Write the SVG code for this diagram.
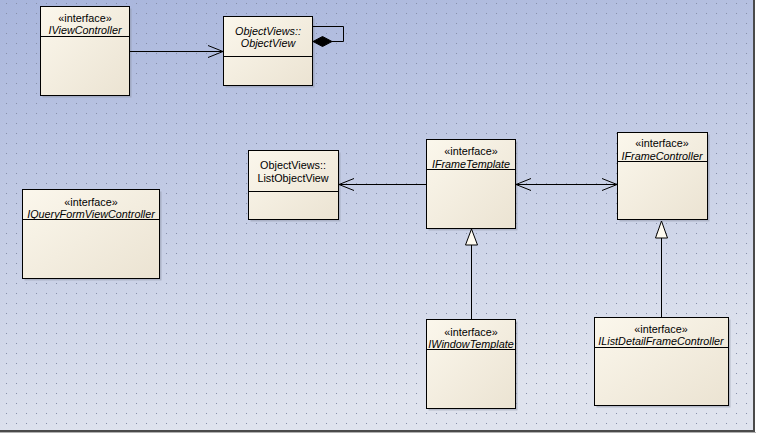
<svg xmlns="http://www.w3.org/2000/svg" width="758" height="435" viewBox="0 0 758 435">
<defs>
<linearGradient id="bg" x1="0" y1="0" x2="0.25" y2="1">
<stop offset="0" stop-color="#a8b5dc"/>
<stop offset="1" stop-color="#dfe3ee"/>
</linearGradient>
<linearGradient id="box" x1="0" y1="0" x2="1" y2="1">
<stop offset="0" stop-color="#fbf7ec"/>
<stop offset="1" stop-color="#ebe3d2"/>
</linearGradient>
<pattern id="dots" x="6" y="3" width="10" height="10" patternUnits="userSpaceOnUse">
<rect x="0" y="0" width="1" height="1" fill="#8890aa"/>
</pattern>
<marker id="open" markerWidth="16" markerHeight="14" refX="15" refY="7" orient="auto" markerUnits="userSpaceOnUse">
<path d="M0,1 L15,7 L0,13" fill="none" stroke="#000" stroke-width="1"/>
</marker>
<marker id="openStart" markerWidth="16" markerHeight="14" refX="1" refY="7" orient="auto" markerUnits="userSpaceOnUse">
<path d="M16,1 L1,7 L16,13" fill="none" stroke="#000" stroke-width="1"/>
</marker>
</defs>
<style>
.b{fill:url(#box);stroke:#000;stroke-width:1}
.sh{fill:#8d93a6;opacity:0.5}
.d{stroke:#000;stroke-width:1}
.t{font-family:"Liberation Sans",Arial,sans-serif;font-size:10.8px;fill:#000;text-anchor:middle}
.i{font-style:italic}
.c{fill:none;stroke:#000;stroke-width:1}
</style>
<rect x="0" y="0" width="758" height="435" fill="#ffffff"/>
<rect x="0" y="0" width="753" height="430" fill="url(#bg)"/>
<rect x="0" y="0" width="753" height="430" fill="url(#dots)"/>
<rect x="753" y="0" width="2" height="433" fill="#4a4a4a"/>
<rect x="0" y="430" width="755" height="2" fill="#4a4a4a"/>
<rect x="0" y="432" width="756" height="1" fill="#b0b0b0"/>

<g id="IViewController">
<rect class="sh" x="42.5" y="8.5" width="89" height="89"/>
<rect class="b" x="40.5" y="6.5" width="89" height="89"/>
<line class="d" x1="40.5" y1="36.5" x2="129.5" y2="36.5"/>
<text class="t" x="85" y="22">«interface»</text>
<text class="t i" x="85" y="34">IViewController</text>
</g>

<g id="ObjectView">
<rect class="sh" x="225.5" y="18.5" width="89" height="69"/>
<rect class="b" x="223.5" y="16.5" width="89" height="69"/>
<line class="d" x1="223.5" y1="56.5" x2="312.5" y2="56.5"/>
<text class="t i" x="268" y="35">ObjectViews::</text>
<text class="t i" x="268" y="47">ObjectView</text>
</g>

<g id="ListObjectView">
<rect class="sh" x="250.5" y="152.5" width="90" height="69"/>
<rect class="b" x="248.5" y="150.5" width="90" height="69"/>
<line class="d" x1="248.5" y1="191.5" x2="338.5" y2="191.5"/>
<text class="t" x="293" y="169">ObjectViews::</text>
<text class="t" x="293" y="182">ListObjectView</text>
</g>

<g id="IFrameTemplate">
<rect class="sh" x="428.5" y="141.5" width="89" height="89"/>
<rect class="b" x="426.5" y="139.5" width="89" height="89"/>
<line class="d" x1="426.5" y1="169.5" x2="515.5" y2="169.5"/>
<text class="t" x="471" y="155">«interface»</text>
<text class="t i" x="471" y="168">IFrameTemplate</text>
</g>

<g id="IFrameController">
<rect class="sh" x="619.5" y="134.5" width="90" height="87"/>
<rect class="b" x="617.5" y="132.5" width="90" height="87"/>
<line class="d" x1="617.5" y1="161.5" x2="707.5" y2="161.5"/>
<text class="t" x="662" y="147">«interface»</text>
<text class="t i" x="662" y="160">IFrameController</text>
</g>

<g id="IQueryFormViewController">
<rect class="sh" x="24.5" y="191.5" width="137" height="89"/>
<rect class="b" x="22.5" y="189.5" width="137" height="89"/>
<line class="d" x1="22.5" y1="219.5" x2="159.5" y2="219.5"/>
<text class="t" x="91" y="206">«interface»</text>
<text class="t i" x="91" y="218">IQueryFormViewController</text>
</g>

<g id="IWindowTemplate">
<rect class="sh" x="428.5" y="321.5" width="89" height="89"/>
<rect class="b" x="426.5" y="319.5" width="89" height="89"/>
<line class="d" x1="426.5" y1="349.5" x2="515.5" y2="349.5"/>
<text class="t" x="471" y="336">«interface»</text>
<text class="t i" x="471" y="348">IWindowTemplate</text>
</g>

<g id="IListDetailFrameController">
<rect class="sh" x="596.5" y="319.5" width="134" height="88"/>
<rect class="b" x="594.5" y="317.5" width="134" height="88"/>
<line class="d" x1="594.5" y1="347.5" x2="728.5" y2="347.5"/>
<text class="t" x="661" y="333">«interface»</text>
<text class="t i" x="661" y="345">IListDetailFrameController</text>
</g>

<g id="connectors">
<line class="c" x1="129.5" y1="51.5" x2="223" y2="51.5" marker-end="url(#open)"/>
<polyline class="c" points="312.5,26.5 343.5,26.5 343.5,41.5 332,41.5"/>
<path d="M313,41.5 L322.5,36.5 L332,41.5 L322.5,46.5 Z" fill="#000" stroke="#000" stroke-width="1"/>
<line class="c" x1="426.5" y1="184.5" x2="339" y2="184.5" marker-end="url(#open)"/>
<line class="c" x1="516" y1="184.5" x2="617" y2="184.5" marker-start="url(#openStart)" marker-end="url(#open)"/>
<line class="c" x1="471.5" y1="319.5" x2="471.5" y2="245"/>
<path d="M471.5,229 L477.5,245 L465.5,245 Z" fill="#fffbf0" stroke="#000" stroke-width="1"/>
<line class="c" x1="661.5" y1="317.5" x2="661.5" y2="238"/>
<path d="M661.5,221 L667.5,238 L655.5,238 Z" fill="#fffbf0" stroke="#000" stroke-width="1"/>
</g>
</svg>
